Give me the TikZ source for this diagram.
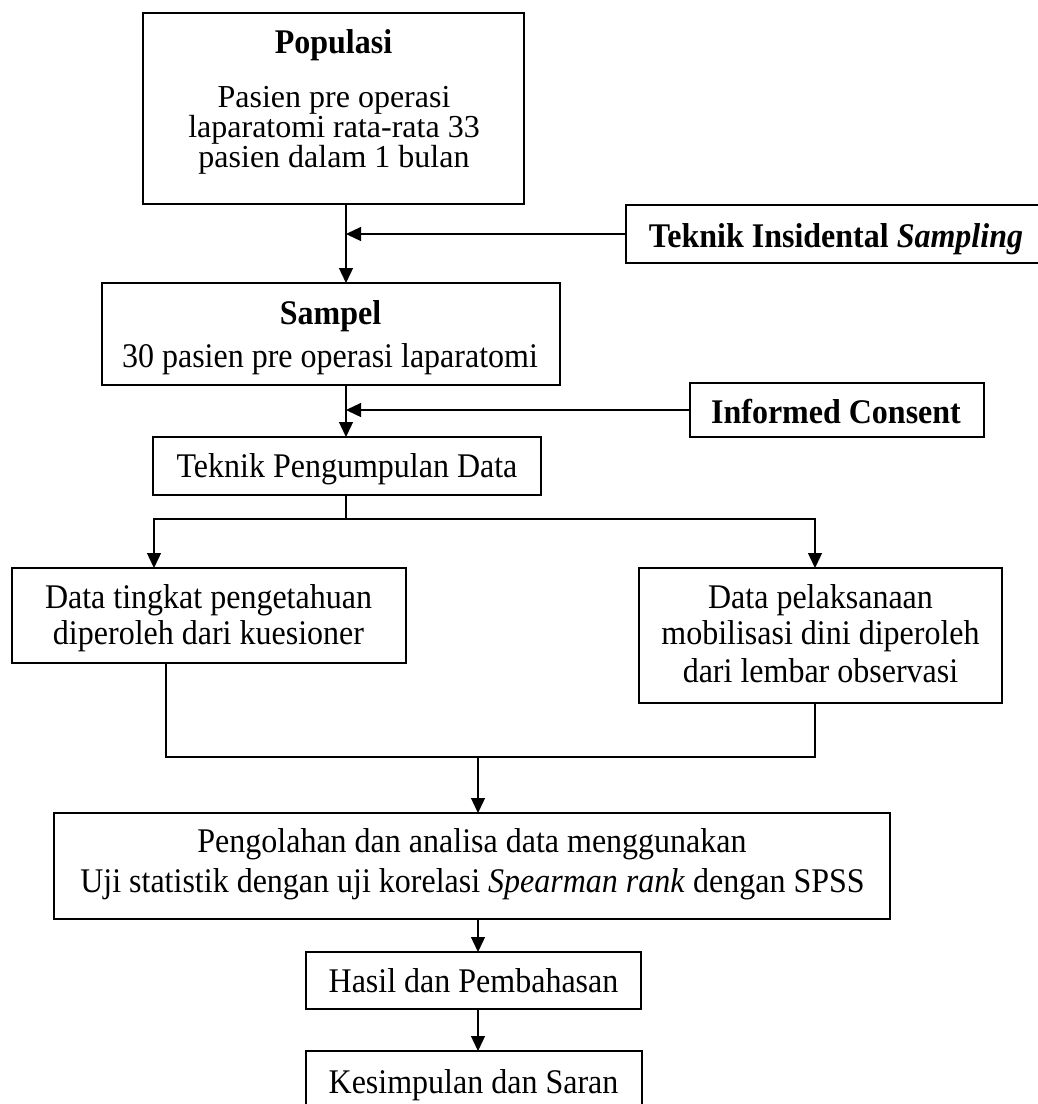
\documentclass[tikz,border=0pt]{standalone}
\usepackage{fontspec}
\usepackage{graphicx}
\setmainfont{Liberation Serif}
\usetikzlibrary{arrows.meta}
\newcommand{\tallt}[1]{\scalebox{1}[1.08]{#1}}
\begin{document}
\begin{tikzpicture}[x=0.5pt,y=-0.5pt,
  box/.style={draw,line width=0.9pt,inner sep=0pt,outer sep=0pt},
  txt/.style={anchor=base,inner sep=0pt,font=\fontsize{16}{19}\selectfont},
  bt/.style={anchor=base,inner sep=0pt,font=\fontsize{16}{19}\selectfont\bfseries},
  conn/.style={line width=0.65pt},
  arr/.style={conn,-{Triangle[length=7.5pt,width=7pt]}}]
\useasboundingbox (0,0) rectangle (1038,1104);
\fill[white] (0,0) rectangle (1038,1104);

% boxes
\node[box,minimum width=190.5pt,minimum height=95.5pt] (pop) at (333.5,108.5) {};
\node[box,minimum width=207pt,minimum height=29pt] (tis) at (833,234) {};
\node[box,minimum width=229pt,minimum height=51pt] (sam) at (331,334) {};
\node[box,minimum width=147pt,minimum height=27pt] (inf) at (837,410) {};
\node[box,minimum width=194pt,minimum height=29pt] (tpd) at (347,466) {};
\node[box,minimum width=197pt,minimum height=47.5pt] (d1) at (209,615.5) {};
\node[box,minimum width=181.5pt,minimum height=67.5pt] (d2) at (820.5,635.5) {};
\node[box,minimum width=418pt,minimum height=53pt] (pen) at (472,866) {};
\node[box,minimum width=167.5pt,minimum height=28.5pt] (has) at (473.5,980.5) {};
\node[box,minimum width=168pt,minimum height=29.5pt] (kes) at (474,1080.5) {};

% texts
\node[bt] (pop0) at (333.5,53) {\tallt{Populasi}};
\node[txt] (pop1) at (334,107) {Pasien pre operasi};
\node[txt] (pop2) at (334,137) {laparatomi rata-rata 33};
\node[txt] (pop3) at (334,167) {pasien dalam 1 bulan};
\node[bt] (tist) at (836,247) {\tallt{Teknik Insidental \textit{Sampling}}};
\node[bt] (sam0) at (330.5,324) {\tallt{Sampel}};
\node[txt] (sam1) at (330,367) {\tallt{30 pasien pre operasi laparatomi}};
\node[bt] (inft) at (836,423) {\tallt{Informed Consent}};
\node[txt] (tpdt) at (347,477) {\tallt{Teknik Pengumpulan Data}};
\node[txt] (d1a) at (208.5,608) {\tallt{Data tingkat pengetahuan}};
\node[txt] (d1b) at (208.5,644) {\tallt{diperoleh dari kuesioner}};
\node[txt] (d2a) at (820.5,608) {\tallt{Data pelaksanaan}};
\node[txt] (d2b) at (820.5,644) {\tallt{mobilisasi dini diperoleh}};
\node[txt] (d2c) at (820.5,682) {\tallt{dari lembar observasi}};
\node[txt] (pena) at (472,852) {\tallt{Pengolahan dan analisa data menggunakan}};
\node[txt] (penb) at (472.5,892) {\tallt{Uji statistik dengan uji korelasi \textit{Spearman rank} dengan SPSS}};
\node[txt] (hast) at (473.5,992) {\tallt{Hasil dan Pembahasan}};
\node[txt] (kest) at (473.5,1093) {\tallt{Kesimpulan dan Saran}};

% coordinates for connectors
\coordinate (c1) at (346,0);
\coordinate (split) at (346,519);
\coordinate (jl) at (154,519);
\coordinate (jr) at (815,519);
\coordinate (m1) at (166,757);
\coordinate (m2) at (815,757);
\coordinate (mj) at (478,757);

% connectors
\draw[arr] (pop.south -| c1) -- (sam.north -| c1);
\draw[arr] (tis.west) -- (tis.west -| c1);
\draw[arr] (sam.south -| c1) -- (tpd.north -| c1);
\draw[arr] (inf.west) -- (inf.west -| c1);
\draw[conn] (tpd.south -| split) -- (split);
\draw[arr] (split) -- (jl) -- (jl |- d1.north);
\draw[arr] (split) -- (jr) -- (jr |- d2.north);
\draw[conn] (d1.south -| m1) -- (m1) -- (m2) -- (d2.south -| m2);
\draw[arr] (mj) -- (pen.north -| mj);
\draw[arr] (pen.south -| mj) -- (has.north -| mj);
\draw[arr] (has.south -| mj) -- (kes.north -| mj);
\end{tikzpicture}
\end{document}
